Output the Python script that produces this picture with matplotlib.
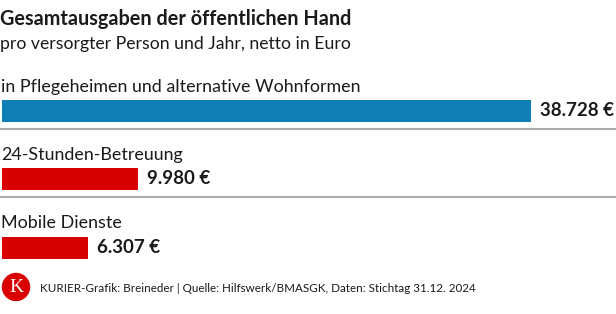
import matplotlib.pyplot as plt
from matplotlib.patches import Circle

categories = ["in Pflegeheimen und alternative Wohnformen", "24-Stunden-Betreuung", "Mobile Dienste"]
values = [38728, 9980, 6307]
value_labels = ["38.728 €", "9.980 €", "6.307 €"]
bar_colors = ["#0f7eb4", "#d80000", "#d80000"]

title = "Gesamtausgaben der öffentlichen Hand"
subtitle = "pro versorgter Person und Jahr, netto in Euro"
footer = "KURIER-Grafik: Breineder | Quelle: Hilfswerk/BMASGK, Daten: Stichtag 31.12. 2024"

W, H = 616, 314
font = "Lato"
txt = "#1a1a1a"

fig = plt.figure(figsize=(W / 100, H / 100), dpi=100)
# overlay axes in pixel coordinates for text and rules
ax = fig.add_axes([0, 0, 1, 1])
ax.set_xlim(0, W)
ax.set_ylim(H, 0)
ax.axis("off")

# bar axes in euro units: 0..max maps to x=2..531 px
x0, x1 = 2, 531
bax = fig.add_axes([x0 / W, 0, (x1 - x0) / W, 1])
bax.set_xlim(0, max(values))
bax.set_ylim(H, 0)
bax.axis("off")

bar_y = [111, 179, 247.5]
label_y = [87, 155, 223]
sep_y = [129, 197]

bax.barh(bar_y, values, height=22, color=bar_colors, left=0)
for y, v, lab in zip(bar_y, values, value_labels):
    bax.annotate(lab, (v, y), xytext=(9, 0), textcoords="offset pixels",
                 va="center", ha="left", fontsize=13.5, fontweight="bold",
                 family=font, color=txt)

for y, c in zip(label_y, categories):
    ax.text(1, y, c, va="center", ha="left", fontsize=12.9, family=font, color=txt)

for y in sep_y:
    ax.plot([0, W], [y, y], color="#acacac", lw=1.5)

ax.text(0, 19, title, va="center", ha="left", fontsize=14.3, fontweight="bold",
        family=font, color=txt)
ax.text(0, 44, subtitle, va="center", ha="left", fontsize=12.7, family=font, color=txt)

ax.add_patch(Circle((16, 287), 13.5, color="#d80000"))
ax.text(16, 288, "K", va="center", ha="center", fontsize=14, family="Liberation Serif",
        color="white")
ax.text(40, 288, footer, va="center", ha="left", fontsize=8.4, family=font, color=txt)

fig.savefig("out.png", dpi=100, facecolor="white")
